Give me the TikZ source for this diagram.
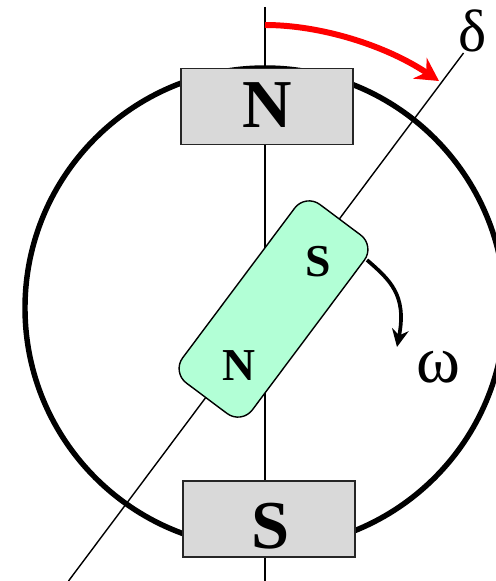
\documentclass[tikz,border=0pt]{standalone}
\usepackage{fontspec}
\setmainfont{Liberation Serif}
\usetikzlibrary{arrows.meta,calc}
\definecolor{polegray}{HTML}{D9D9D9}
\definecolor{rotorgreen}{HTML}{B2FFD6}
\tikzset{
  pole/.style={draw=black!85,fill=polegray,line width=1.1pt,minimum width=3.44cm,minimum height=1.52cm,inner sep=0pt},
  polelabel/.style={inner sep=0pt,font=\fontsize{39}{39}\selectfont\bfseries},
  rotor/.style={draw=black,fill=rotorgreen,line width=.8pt,rounded corners=.36cm,minimum width=4.46cm,minimum height=1.74cm,inner sep=0pt,rotate=53.2},
  rotorlabel/.style={inner sep=0pt,font=\fontsize{26}{26}\selectfont\bfseries},
  axis/.style={line width=.8pt},
  greek/.style={inner sep=0pt,font=\fontsize{38}{38}\selectfont}
}
\begin{document}
\begin{tikzpicture}[x=.02cm,y=-.02cm]
  \useasboundingbox (0,0) rectangle (495,581);
  \coordinate (center) at (265,308);
  \coordinate (vtop) at (265,7);
  \coordinate (vbot) at (265,581);
  \coordinate (dtop) at (463.5,53);
  \coordinate (dbot) at (68.5,581);
  \coordinate (redstart) at (265,25);
  \coordinate (redend) at (439,81);
  \coordinate (spinstart) at (367,260);
  \coordinate (spinend) at (397,347);
  \draw[line width=3.1pt] (center) circle (240);
  \draw[axis] (vtop) -- (vbot);
  \draw[axis] (dtop) -- (dbot);
  \node[pole] (north) at (267,106.5) {};
  \node[pole] (south) at (269,519) {};
  \node[polelabel] (northlabel) at (267,105) {N};
  \node[polelabel] (southlabel) at (271,526) {S};
  \node[rotor] (magnet) at (273.5,309) {};
  \node[rotorlabel] (mags) at (318,262) {S};
  \node[rotorlabel] (magn) at (239,366) {N};
  \draw[red,line width=3.4pt,-{Stealth[length=13pt,width=14pt]}] (redstart) .. controls (320,25) and (385,45) .. (redend);
  \draw[line width=2.1pt,-{Stealth[length=10pt,width=9.5pt]}] (spinstart) .. controls (390,280) and (407,295) .. (spinend);
  \node[greek,font=\fontsize{34}{34}\selectfont] (delta) at (473,31) {δ};
  \node[greek] (omega) at (438,367) {ω};
\end{tikzpicture}
\end{document}
